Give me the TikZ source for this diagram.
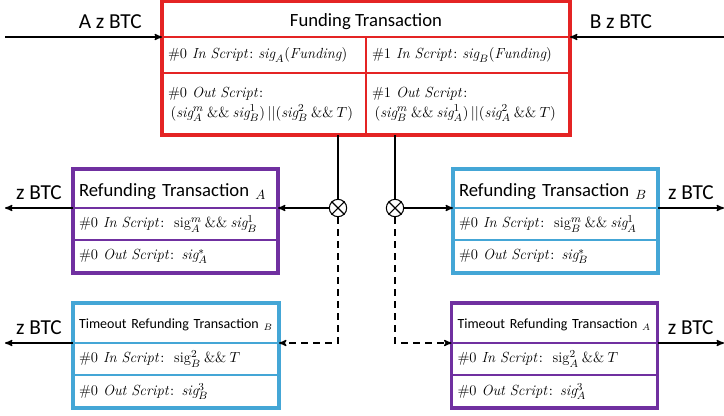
\documentclass[tikz,border=0pt]{standalone}
\usepackage{fontspec}
\usepackage{amsmath}
\newfontfamily\calib{Carlito}
\usetikzlibrary{arrows,positioning}

\definecolor{fundred}{RGB}{228,36,36}
\definecolor{refpurple}{RGB}{112,48,160}
\definecolor{refblue}{RGB}{68,166,214}

\newcommand{\insc}{\#0 $\mathit{In\ Script}\colon$}
\newcommand{\outsc}{\#0 $\mathit{Out\ Script}\colon$}

\begin{document}
\begin{tikzpicture}[x=0.75pt,y=-0.75pt,>=stealth',line width=1pt,
  row node/.style={outer sep=0pt,inner xsep=4.5pt,inner ysep=0pt,line width=1.5pt,
    align=left,font=\fontsize{11}{15}\selectfont},
  head node/.style={row node,font=\calib\fontsize{14}{16}\selectfont,text depth=0pt},
  small head/.style={row node,font=\calib\fontsize{10.5}{13}\selectfont,text depth=0pt},
  frame/.style={line width=2.6pt},
  btc node/.style={font=\calib\fontsize{16}{18}\selectfont,inner sep=2pt,above=4pt},
  cross node/.style={circle,draw,fill=white,minimum size=13pt,inner sep=0pt,line width=0.8pt}]

  \useasboundingbox (0,0) rectangle (724,415);

  % funding transaction
  \node[head node,draw=fundred,align=center,minimum width=306pt,minimum height=27pt,
    text height=10.5pt] (fundH) at (366,19) {Funding Transaction};
  \node[row node,draw=fundred,text width=144pt,minimum height=27pt,
    below right=0pt and 0pt of fundH.south west]
    (fundL2) {\#0 $\mathit{In\ Script}\colon \mathit{sig}_A(\mathit{Funding})$};
  \node[row node,draw=fundred,text width=144pt,minimum height=27pt,right=0pt of fundL2]
    (fundR2) {\#1 $\mathit{In\ Script}\colon \mathit{sig}_B(\mathit{Funding})$};
  \node[row node,draw=fundred,text width=144pt,minimum height=46.5pt,below=0pt of fundL2]
    (fundL3) {\#0 $\mathit{Out\ Script}\colon$\\
      \hspace{2pt}$(\mathit{sig}^m_A \mathbin{\&\&} \mathit{sig}^1_B)\,\vert\vert(\mathit{sig}^2_B \mathbin{\&\&} T)$};
  \node[row node,draw=fundred,text width=144pt,minimum height=46.5pt,below=0pt of fundR2]
    (fundR3) {\#1 $\mathit{Out\ Script}\colon$\\
      \hspace{2pt}$(\mathit{sig}^m_B \mathbin{\&\&} \mathit{sig}^1_A)\,\vert\vert(\mathit{sig}^2_A \mathbin{\&\&} T)$};
  \draw[fundred,frame] (fundH.north west) rectangle (fundR3.south east);

  % refunding transactions
  \node[head node,draw=refpurple,text width=144.75pt,minimum height=29.25pt,text height=12.5pt]
    (refAH) at (175.5,188.5) {Refunding Transaction $_A$};
  \node[row node,draw=refpurple,text width=144.75pt,minimum height=24pt,below=0pt of refAH]
    (refA2) {\insc\ $\mathrm{sig}^m_A \mathbin{\&\&} \mathit{sig}^1_B$};
  \node[row node,draw=refpurple,text width=144.75pt,minimum height=24.75pt,below=0pt of refA2]
    (refA3) {\outsc$\,\mathit{sig}^*_A$};
  \draw[refpurple,frame] (refAH.north west) rectangle (refA3.south east);

  \node[head node,draw=refblue,text width=144.75pt,minimum height=29.25pt,text height=12.5pt]
    (refBH) at (555.5,188.5) {Refunding Transaction $_B$};
  \node[row node,draw=refblue,text width=144.75pt,minimum height=24pt,below=0pt of refBH]
    (refB2) {\insc\ $\mathrm{sig}^m_B \mathbin{\&\&} \mathit{sig}^1_A$};
  \node[row node,draw=refblue,text width=144.75pt,minimum height=24.75pt,below=0pt of refB2]
    (refB3) {\outsc$\,\mathit{sig}^*_B$};
  \draw[refblue,frame] (refBH.north west) rectangle (refB3.south east);

  % timeout refunding transactions
  \node[small head,draw=refblue,text width=145.5pt,minimum height=30pt,text height=8pt]
    (toBH) at (176,323) {\mbox{Timeout Refunding Transaction $_B$}};
  \node[row node,draw=refblue,text width=145.5pt,minimum height=24pt,below=0pt of toBH]
    (toB2) {\insc\ $\mathrm{sig}^2_B \mathbin{\&\&} T$};
  \node[row node,draw=refblue,text width=145.5pt,minimum height=24.75pt,below=0pt of toB2]
    (toB3) {\outsc$\,\mathit{sig}^3_B$};
  \draw[refblue,frame] (toBH.north west) rectangle (toB3.south east);

  \node[small head,draw=refpurple,text width=145.5pt,minimum height=30pt,text height=8pt]
    (toAH) at (554.5,323) {\mbox{Timeout Refunding Transaction $_A$}};
  \node[row node,draw=refpurple,text width=145.5pt,minimum height=24pt,below=0pt of toAH]
    (toA2) {\insc\ $\mathrm{sig}^2_A \mathbin{\&\&} T$};
  \node[row node,draw=refpurple,text width=145.5pt,minimum height=24.75pt,below=0pt of toA2]
    (toA3) {\outsc$\,\mathit{sig}^3_A$};
  \draw[refpurple,frame] (toAH.north west) rectangle (toA3.south east);

  % splitting points
  \node[cross node] (circA) at (338,208) {};
  \node[cross node] (circB) at (395,208) {};
  \draw[line width=0.8pt] (circA.45) -- (circA.225) (circA.135) -- (circA.-45);
  \draw[line width=0.8pt] (circB.45) -- (circB.225) (circB.135) -- (circB.-45);

  \coordinate (aIn) at (5,37);
  \coordinate (bIn) at (724,37);
  \coordinate (outRA) at (5,208);
  \coordinate (outRB) at (724,208);
  \coordinate (outTB) at (5,343);
  \coordinate (outTA) at (724,343);

  \draw[->] (aIn) -- node[btc node,pos=0.67] (lblA) {A z BTC} (fundH.south west);
  \draw[->] (bIn) -- node[btc node,pos=0.67] (lblB) {B z BTC} (fundH.south east);
  \draw (circA |- fundL3.south) -- (circA);
  \draw (circB |- fundR3.south) -- (circB);
  \draw[->] (circA) -- (refAH.south east);
  \draw[->] (circB) -- (refBH.south west);
  \draw[->] (refAH.south west) -- node[btc node] (lblRA) {z BTC} (outRA);
  \draw[->] (refBH.south east) -- node[btc node] (lblRB) {z BTC} (outRB);
  \draw[->,dash pattern=on 5pt off 4pt] (circA) |- (toBH.south east);
  \draw[->,dash pattern=on 5pt off 4pt] (circB) |- (toAH.south west);
  \draw[->] (toBH.south west) -- node[btc node] (lblTB) {z BTC} (outTB);
  \draw[->] (toAH.south east) -- node[btc node] (lblTA) {z BTC} (outTA);
\end{tikzpicture}
\end{document}
